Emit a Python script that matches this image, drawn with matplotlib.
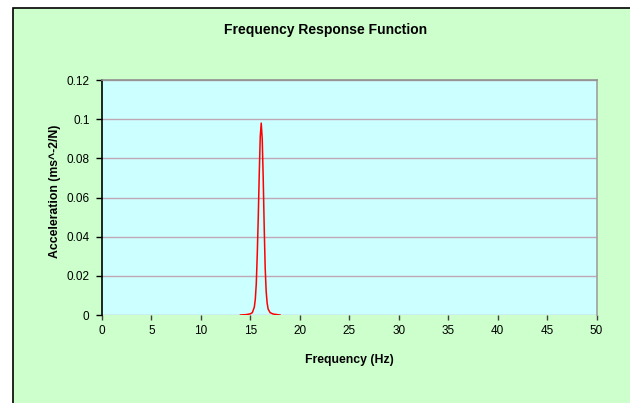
import matplotlib
matplotlib.use("Agg")
import matplotlib.pyplot as plt
from matplotlib.patches import Rectangle

plt.rcParams["font.family"] = ["Liberation Sans", "DejaVu Sans"]

# values
freq = [14.0, 14.6, 15.0, 15.2, 15.4, 15.5, 15.6, 15.7, 15.8, 15.9, 16.0, 16.1,
        16.2, 16.3, 16.4, 16.5, 16.6, 16.7, 16.8, 17.0, 17.3, 17.7, 18.0]
accel = [0.0, 0.0002, 0.0006, 0.0012, 0.004, 0.008, 0.016, 0.031, 0.050, 0.072,
         0.091, 0.098, 0.090, 0.070, 0.045, 0.024, 0.012, 0.006, 0.003, 0.0012,
         0.0005, 0.0002, 0.0]
xticks = [0, 5, 10, 15, 20, 25, 30, 35, 40, 45, 50]
yticks = [0, 0.02, 0.04, 0.06, 0.08, 0.1, 0.12]
ytick_labels = ["0", "0.02", "0.04", "0.06", "0.08", "0.1", "0.12"]

W, H = 630, 403
fig = plt.figure(figsize=(W / 100, H / 100), dpi=100, facecolor="white")

# green chart area with black border on the left and top
fig.patches.append(Rectangle((13 / W, -0.1), 1.2, 1.1 - 8 / H,
                             transform=fig.transFigure, facecolor="#ccffcc",
                             edgecolor="black", linewidth=1.2, zorder=-5))

ax = fig.add_axes([102 / W, 1 - 315 / H, (596.5 - 102) / W, (315 - 80) / H])
ax.set_facecolor("#ccffff")

ax.plot(freq, accel, color="red", linewidth=1.1)

ax.set_xlim(0, 50)
ax.set_ylim(0, 0.12)
ax.set_xticks(xticks)
ax.set_yticks(yticks)
ax.set_yticklabels(ytick_labels)
ax.yaxis.grid(True, color="#bfa8b4", linewidth=1.0)
ax.set_axisbelow(True)

ax.spines["left"].set_color("black")
ax.spines["left"].set_linewidth(1.2)
ax.spines["bottom"].set_visible(False)
ax.spines["top"].set_color("#909090")
ax.spines["right"].set_color("#a0a0a0")
ax.spines["top"].set_linewidth(1.2)
ax.spines["right"].set_linewidth(1.2)

ax.tick_params(axis="x", length=3.5, width=1, color="#404040", pad=4,
               labelsize=8.5)
ax.tick_params(axis="y", length=4, width=1, color="black", pad=5,
               labelsize=8.5)

fig.text(326 / W, 1 - 30 / H, "Frequency Response Function", ha="center",
         va="center", fontsize=10, fontweight="bold")
fig.text(349 / W, 1 - 360 / H, "Frequency (Hz)", ha="center", va="center",
         fontsize=8.8, fontweight="bold")
fig.text(55 / W, 1 - 191 / H, "Acceleration (ms^-2/N)", ha="center",
         va="center", rotation=90, fontsize=8.8, fontweight="bold")

fig.savefig("out.png", dpi=100)
